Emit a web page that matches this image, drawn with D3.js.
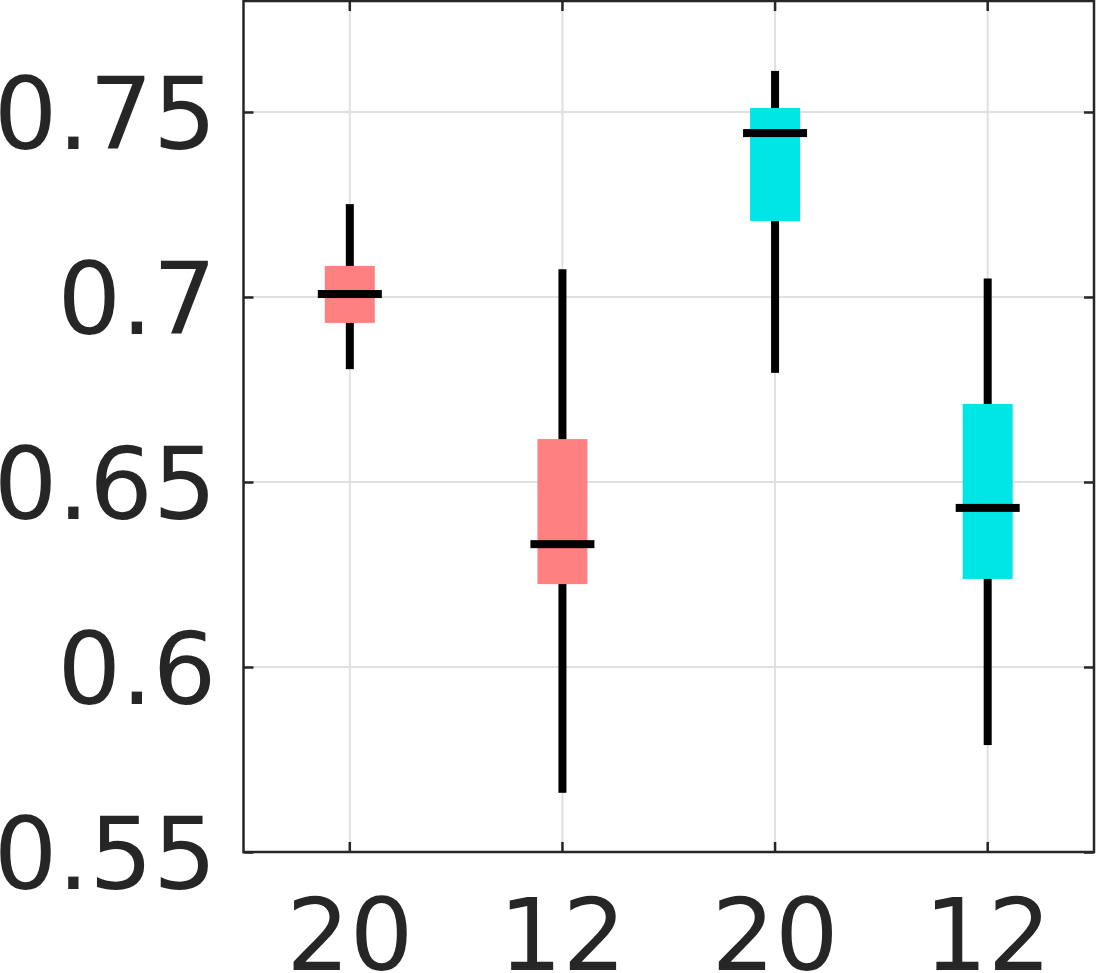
<!DOCTYPE html>
<html>
<head>
<meta charset="utf-8">
<script src="https://cdn.jsdelivr.net/npm/d3@7"></script>
<style>
  html, body { margin: 0; padding: 0; background: #fff; }
  svg { display: block; }
</style>
</head>
<body>
<svg id="chart" width="1096" height="973"></svg>
<script>
// ---- data ----
const categories = ["20", "12", "20", "12"];
const groups = ["A", "A", "B", "B"];
const whiskerLow = [0.6805, 0.5660, 0.6795, 0.5789];
const q1 = [0.6930, 0.6224, 0.7205, 0.6238];
const median = [0.7008, 0.6332, 0.7443, 0.6430];
const q3 = [0.7084, 0.6616, 0.7511, 0.6711];
const whiskerHigh = [0.7251, 0.7075, 0.7611, 0.7050];
const yTicks = [0.55, 0.6, 0.65, 0.7, 0.75];
const yTickLabels = ["0.55", "0.6", "0.65", "0.7", "0.75"];
const groupColors = { A: "#ff8080", B: "#00e5e5" };

(function () {
// ---- layout ----
const svg = d3.select("#chart");
const pLeft = 243.5, pRight = 1094, pTop = 1, pBottom = 852;
const idx = categories.map((d, i) => i);

const x = d3.scaleBand().domain(idx).range([pLeft, pRight]).padding(0);
const y = d3.scaleLinear().domain([0.55, 0.78]).range([pBottom, pTop]);
const cx = i => x(i) + x.bandwidth() / 2;

const textColor = "#262626";
const gridColor = "#e0e0e0";
const fontFamily = "'DejaVu Sans', sans-serif";
const fontSize = 100;

// grid
const grid = svg.append("g");
grid.selectAll("line.h").data(yTicks).enter().append("line")
  .attr("x1", pLeft).attr("x2", pRight)
  .attr("y1", d => y(d)).attr("y2", d => y(d))
  .attr("stroke", gridColor).attr("stroke-width", 2);
grid.selectAll("line.v").data(idx).enter().append("line")
  .attr("x1", d => cx(d)).attr("x2", d => cx(d))
  .attr("y1", pTop).attr("y2", pBottom)
  .attr("stroke", gridColor).attr("stroke-width", 2);

// boxes
const boxW = 50, medW = 64, whW = 8, medH = 8;
const g = svg.append("g");
idx.forEach(i => {
  g.append("rect")
    .attr("x", cx(i) - whW / 2).attr("width", whW)
    .attr("y", y(whiskerHigh[i])).attr("height", y(whiskerLow[i]) - y(whiskerHigh[i]))
    .attr("fill", "#000");
  g.append("rect")
    .attr("x", cx(i) - boxW / 2).attr("width", boxW)
    .attr("y", y(q3[i])).attr("height", y(q1[i]) - y(q3[i]))
    .attr("fill", groupColors[groups[i]]);
  g.append("rect")
    .attr("x", cx(i) - medW / 2).attr("width", medW)
    .attr("y", y(median[i]) - medH / 2).attr("height", medH)
    .attr("fill", "#000");
});

// frame
svg.append("rect")
  .attr("x", pLeft).attr("y", pTop)
  .attr("width", pRight - pLeft).attr("height", pBottom - pTop)
  .attr("fill", "none").attr("stroke", textColor).attr("stroke-width", 2.5);

// axes (ticks inside)
const tickLen = 10;
const yAxisL = d3.axisLeft(y).tickValues(yTicks).tickSize(-tickLen).tickPadding(27)
  .tickFormat((d, i) => yTickLabels[i]);
const yAxisR = d3.axisRight(y).tickValues(yTicks).tickSize(-tickLen).tickFormat("");
const xAxisB = d3.axisBottom(x).tickSize(-tickLen).tickPadding(47)
  .tickFormat(i => categories[i]);
const xAxisT = d3.axisTop(x).tickSize(-tickLen).tickFormat("");

function styleAxis(sel) {
  sel.select(".domain").remove();
  sel.selectAll(".tick line").attr("stroke", textColor).attr("stroke-width", 2.5);
  sel.selectAll(".tick text")
    .attr("fill", textColor)
    .style("font-family", fontFamily)
    .style("font-size", fontSize + "px");
}

svg.append("g").attr("transform", `translate(${pLeft},0)`).call(yAxisL).call(styleAxis)
  .selectAll(".tick text").attr("dy", "0.36em");
svg.append("g").attr("transform", `translate(${pRight},0)`).call(yAxisR).call(styleAxis);
svg.append("g").attr("transform", `translate(0,${pBottom})`).call(xAxisB).call(styleAxis)
  .selectAll(".tick text").attr("dy", "0.71em");
svg.append("g").attr("transform", `translate(0,${pTop})`).call(xAxisT).call(styleAxis);
})();
</script>
</body>
</html>
